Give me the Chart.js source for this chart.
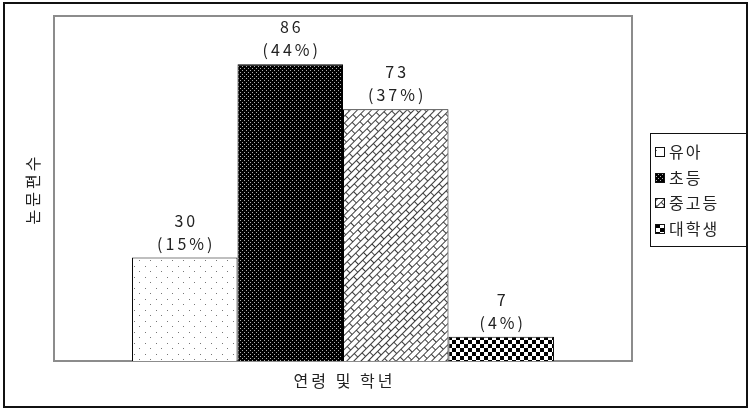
<!DOCTYPE html>
<html>
<head>
<meta charset="utf-8">
<script src="https://cdn.jsdelivr.net/npm/chart.js@4"></script>
<style>
  html, body { margin: 0; padding: 0; background: #fff; }
  #ageChart { display: block; }
</style>
</head>
<body>
<canvas id="ageChart" width="752" height="410"></canvas>
<script>
// Data
const categories = ['유아', '초등', '중고등', '대학생'];
const counts = [30, 86, 73, 7];
const shares = ['15%', '44%', '37%', '4%'];
const xTitle = '연령 및 학년';
const yTitle = '논문편수';
const yMax = 100;

const FONT = '"Noto Sans CJK KR", "Noto Sans", sans-serif';

// Pattern fills
function makePattern(w, h, paint, angle) {
    const c = document.createElement('canvas');
    c.width = w; c.height = h;
    const g = c.getContext('2d');
    paint(g, w, h);
    const p = document.getElementById('ageChart').getContext('2d').createPattern(c, 'repeat');
    if (angle) p.setTransform(new DOMMatrix().rotateSelf(angle));
    return p;
}

const fills = [
    // sparse dots
    makePattern(11, 11, (g) => {
        g.fillStyle = '#fff'; g.fillRect(0, 0, 11, 11);
        g.fillStyle = '#777';
        g.fillRect(2, 2, 1, 1);
        g.fillRect(7, 7, 1, 1);
    }),
    // black with fine light dots
    makePattern(4, 4, (g) => {
        g.fillStyle = '#000'; g.fillRect(0, 0, 4, 4);
        g.fillStyle = '#b0b0b0';
        g.fillRect(0, 0, 1, 1);
        g.fillRect(2, 2, 1, 1);
    }),
    // diagonal brick (upright bricks, rotated)
    makePattern(12, 10, (g) => {
        g.fillStyle = '#fff'; g.fillRect(0, 0, 12, 10);
        g.fillStyle = '#3c3c3c';
        g.fillRect(0, 0, 12, 1);
        g.fillRect(0, 5, 12, 1);
        g.fillRect(0, 0, 1, 5);
        g.fillRect(6, 5, 1, 5);
    }, -45),
    // checkerboard
    makePattern(8, 8, (g) => {
        g.fillStyle = '#fff'; g.fillRect(0, 0, 8, 8);
        g.fillStyle = '#000';
        g.fillRect(0, 0, 4, 4);
        g.fillRect(4, 4, 4, 4);
    })
];

// Frames, titles, value labels and legend
const decorations = {
    id: 'decorations',
    beforeDraw(chart) {
        const { ctx } = chart;
        ctx.save();
        ctx.fillStyle = '#fff';
        ctx.fillRect(0, 0, chart.width, chart.height);
        ctx.strokeStyle = '#111';
        ctx.lineWidth = 2;
        ctx.strokeRect(4, 3, 743, 404);
        ctx.restore();
    },
    beforeDatasetsDraw(chart) {
        const { ctx, chartArea: a } = chart;
        ctx.save();
        ctx.strokeStyle = '#8c8c8c';
        ctx.lineWidth = 2;
        ctx.strokeRect(a.left, a.top, a.right - a.left, a.bottom - a.top);
        ctx.restore();
    },
    afterDatasetsDraw(chart) {
        const { ctx, chartArea: a } = chart;
        ctx.save();
        ctx.fillStyle = '#222';
        ctx.textAlign = 'center';
        ctx.textBaseline = 'middle';
        ctx.font = '16px ' + FONT;
        ctx.letterSpacing = '3px';
        chart.data.datasets.forEach((ds, i) => {
            const bar = chart.getDatasetMeta(i).data[0];
            ctx.fillText(String(counts[i]), bar.x + 1.5, bar.y - 37);
            ctx.fillText('(' + shares[i] + ')', bar.x + 1.5, bar.y - 14);
        });

        // axis titles
        ctx.fillText(xTitle, (a.left + a.right) / 2 + 1.5, 381);
        ctx.save();
        ctx.translate(33, (a.top + a.bottom) / 2 + 2);
        ctx.rotate(-Math.PI / 2);
        ctx.fillText(yTitle, 1.5, 0);
        ctx.restore();

        // legend
        ctx.strokeStyle = '#111';
        ctx.lineWidth = 1;
        ctx.strokeRect(650.5, 133.5, 96, 113);
        const rows = [152, 178, 203, 229];
        ctx.textAlign = 'left';
        ctx.letterSpacing = '2px';
        categories.forEach((c, i) => {
            const y = rows[i];
            ctx.fillStyle = fills[i];
            ctx.fillRect(655, y - 5, 10, 10);
            ctx.strokeStyle = '#111';
            ctx.strokeRect(655.5, y - 4.5, 9, 9);
            ctx.fillStyle = '#222';
            ctx.fillText(c, 669, y);
        });
        ctx.restore();
    }
};

const ctx = document.getElementById('ageChart').getContext('2d');
const ageChart = new Chart(ctx, {
    type: 'bar',
    data: {
        labels: [xTitle],
        datasets: categories.map((c, i) => ({
            label: c,
            data: [counts[i]],
            backgroundColor: fills[i],
            borderColor: '#000',
            borderWidth: 1,
            categoryPercentage: 0.73,
            barPercentage: 1
        }))
    },
    options: {
        responsive: false,
        animation: false,
        devicePixelRatio: 1,
        layout: { padding: { left: 54, top: 16, right: 120, bottom: 49 } },
        plugins: {
            legend: { display: false },
            tooltip: { enabled: false }
        },
        scales: {
            x: { display: false },
            y: { display: false, min: 0, max: yMax }
        }
    },
    plugins: [decorations]
});
</script>
</body>
</html>
